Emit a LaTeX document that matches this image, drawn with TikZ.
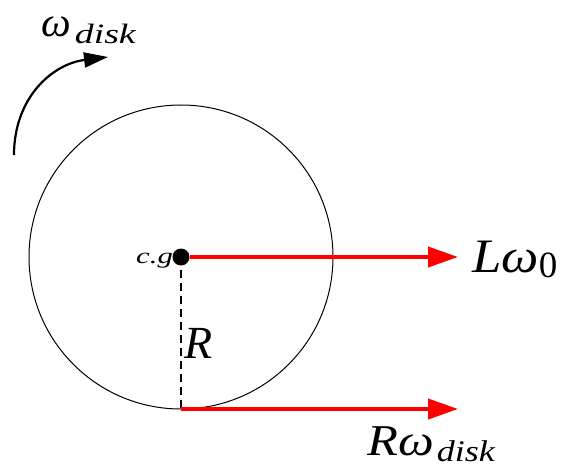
\documentclass[tikz,border=0pt]{standalone}
\usepackage{fontspec}
\setmainfont{Liberation Serif}
\usetikzlibrary{arrows.meta}
\tikzset{
  vecarr/.style  = {-{Triangle[length=30pt,width=20pt]},red,line width=4pt},
  spinarr/.style = {-{Triangle[length=24pt,width=15pt]},line width=2.2pt},
  lbl/.style     = {inner sep=0pt,anchor=base west}
}
\newcommand{\fs}[1]{\fontsize{#1}{#1}\selectfont}
\newcommand{\wide}[2]{\scalebox{#1}[1]{#2}}

\begin{document}
\begin{tikzpicture}[x=1pt,y=-1pt]
  \useasboundingbox (0,0) rectangle (562,468);
  % disk and centre of gravity
  \coordinate (O) at (181,257);
  \node[circle,draw,line width=1pt,minimum size=304pt,inner sep=0pt,outer sep=0pt] (disk) at (O) {};
  \draw[dashed,line width=1.1pt,dash pattern=on 8pt off 5pt] (O) -- (disk.south);
  \node[circle,fill,minimum size=17pt,inner sep=0pt] (cg) at (O) {};
  % velocity vectors
  \coordinate (Lend) at (458,257);
  \coordinate (Rend) at (458,409);
  \draw[vecarr] (cg.east) -- (Lend);
  \draw[vecarr] (disk.south) -- (Rend);
  % spin arrow
  \coordinate (wstart) at (14,155);
  \coordinate (wend) at (108,57);
  \draw[spinarr] (wstart) .. controls (14,98) and (52,64) .. (wend);
  % labels
  \node[lbl,font=\itshape\fs{42}] (wlab) at (41,37)
    {ω\kern4pt\raisebox{-7pt}{\fs{28}\wide{1.35}{disk}}};
  \node[lbl,font=\itshape\fs{22}] (cglab) at (136,263) {\wide{1.4}{c.g}};
  \node[lbl,font=\itshape\fs{46}] (Rlab) at (184,358) {R};
  \node[lbl,font=\itshape\fs{48}] (Llab) at (472,272)
    {\wide{1.1}{Lω}\raisebox{-5pt}{\upshape\fs{37}0}};
  \node[lbl,font=\itshape\fs{44}] (Rwlab) at (367,455)
    {\wide{1.15}{Rω}\kern3pt\raisebox{-6pt}{\fs{30}\wide{1.2}{disk}}};
\end{tikzpicture}
\end{document}
